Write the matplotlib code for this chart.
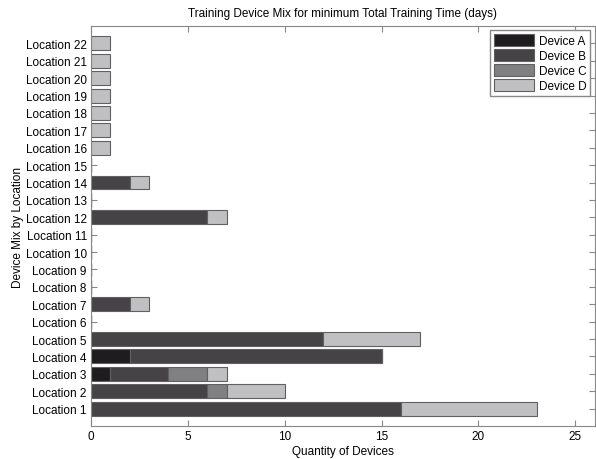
import matplotlib
matplotlib.use("Agg")
import matplotlib.pyplot as plt
import numpy as np

plt.rcParams['font.family'] = ['Liberation Sans', 'DejaVu Sans']

locations = [f"Location {i}" for i in range(1, 23)]
device_names = ["Device A", "Device B", "Device C", "Device D"]
dev_a = [0, 0, 1, 2, 0, 0, 0, 0, 0, 0, 0, 0, 0, 0, 0, 0, 0, 0, 0, 0, 0, 0]
dev_b = [16, 6, 3, 13, 12, 0, 2, 0, 0, 0, 0, 6, 0, 2, 0, 0, 0, 0, 0, 0, 0, 0]
dev_c = [0, 1, 2, 0, 0, 0, 0, 0, 0, 0, 0, 0, 0, 0, 0, 0, 0, 0, 0, 0, 0, 0]
dev_d = [7, 3, 1, 0, 5, 0, 1, 0, 0, 0, 0, 1, 0, 1, 0, 1, 1, 1, 1, 1, 1, 1]
colors = ["#1e1c1e", "#454346", "#808083", "#c0c0c2"]

fig = plt.figure(figsize=(5.96, 4.6), dpi=100)
ax = fig.add_axes([0.1527, 0.0717, 0.845, 0.8696])
ax.set_axisbelow(True)

y = np.arange(1, len(locations) + 1)
left = np.zeros(len(locations))
for vals, name, col in zip([dev_a, dev_b, dev_c, dev_d], device_names, colors):
    vals = np.array(vals, dtype=float)
    ax.barh(y, vals, left=left, height=0.8, color=col, edgecolor="#606060",
            linewidth=0.8, label=name)
    left += vals

ax.set_xlim(0, 26)
ax.set_ylim(0, 23)
ax.set_yticks(y)
ax.set_yticklabels(locations)
ax.set_xticks([0, 5, 10, 15, 20, 25])
ax.tick_params(direction="in", top=True, right=True, labelsize=8.5, length=4,
               color="#888888", labelcolor="#000000", pad=3)
for s in ax.spines.values():
    s.set_color("#888888")
ax.set_xlabel("Quantity of Devices", fontsize=8.5, labelpad=2)
ax.set_ylabel("Device Mix by Location", fontsize=8.5, labelpad=1)
ax.set_title("Training Device Mix for minimum Total Training Time (days)", fontsize=8.5, pad=7)
leg = ax.legend(loc="upper right", fontsize=8.5, fancybox=False, framealpha=1,
                edgecolor="#888888", handlelength=3.4, handleheight=1.1,
                borderaxespad=0.35, labelspacing=0.2, handletextpad=0.4,
                borderpad=0.35)

fig.savefig("out.png", dpi=100)
